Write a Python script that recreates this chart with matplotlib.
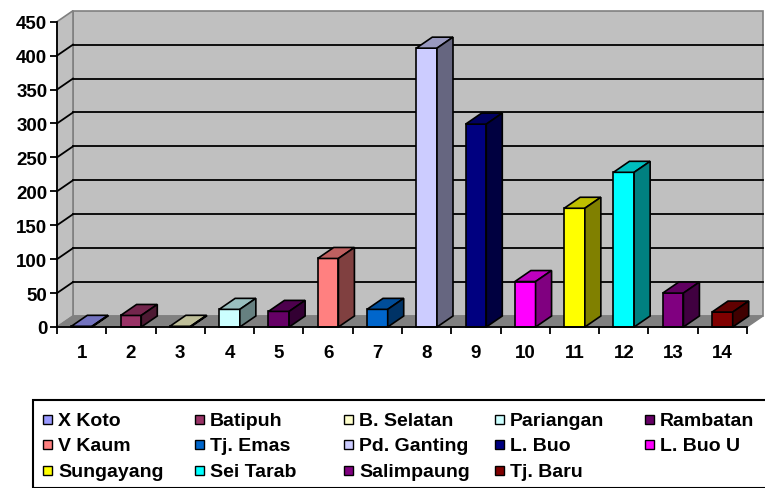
import matplotlib
matplotlib.use('Agg')
import matplotlib.pyplot as plt
from matplotlib.patches import Polygon, Rectangle
from matplotlib.colors import to_rgb

plt.rcParams['font.family'] = ['Liberation Sans', 'DejaVu Sans']
plt.rcParams['font.weight'] = 'bold'

# data
categories = ['1', '2', '3', '4', '5', '6', '7', '8', '9', '10', '11', '12', '13', '14']
names = ['X Koto', 'Batipuh', 'B. Selatan', 'Pariangan', 'Rambatan',
         'V Kaum', 'Tj. Emas', 'Pd. Ganting', 'L. Buo', 'L. Buo U',
         'Sungayang', 'Sei Tarab', 'Salimpaung', 'Tj. Baru']
values = [1, 17, 1, 26, 23, 101, 26, 411, 299, 67, 175, 228, 50, 22]
colors = ['#9999FF', '#993366', '#FFFFCC', '#CCFFFF', '#660066',
          '#FF8080', '#0066CC', '#CCCCFF', '#000080', '#FF00FF',
          '#FFFF00', '#00FFFF', '#800080', '#800000']
yticks = [0, 50, 100, 150, 200, 250, 300, 350, 400, 450]

W, H = 765, 489
fig = plt.figure(figsize=(W / 100, H / 100), dpi=100)

# front plot frame in pixels
x0, x1 = 57, 747
y_zero, y_top = 328, 22.7
ax = fig.add_axes([x0 / W, (H - y_zero) / H, (x1 - x0) / W, (y_zero - y_top) / H])
n = len(values)
ymax = 450
ax.set_xlim(0, n)
ax.set_ylim(0, ymax)

# depth offset (16 px right, 11 px up) in data units
dx = 16 / ((x1 - x0) / n)
dy = 11 / ((y_zero - y_top) / ymax)


def shade(c, f):
    r, g, b = to_rgb(c)
    return (r * f, g * f, b * f)


# walls and floor
ax.add_patch(Rectangle((dx, dy), n, ymax, facecolor='#C0C0C0', edgecolor='#808080',
                       lw=1.2, clip_on=False, zorder=0))
ax.add_patch(Polygon([(0, 0), (dx, dy), (dx, ymax + dy), (0, ymax)], closed=True,
                     facecolor='#C0C0C0', edgecolor='#808080', lw=1.2, clip_on=False, zorder=0))
ax.add_patch(Polygon([(0, 0), (n, 0), (n + dx, dy), (dx, dy)], closed=True,
                     facecolor='#808080', edgecolor='#808080', lw=1, clip_on=False, zorder=0.5))

# gridlines on back and side wall
for v in yticks[1:-1]:
    ax.plot([dx, n + dx], [v + dy, v + dy], color='black', lw=1.3, clip_on=False, zorder=1)
    ax.plot([0, dx], [v, v + dy], color='black', lw=1.3, clip_on=False, zorder=1)

# 3d bars
w = 0.42
for i, (v, c) in enumerate(zip(values, colors)):
    xc = i + 0.5
    xl, xr = xc - w / 2, xc + w / 2
    ax.bar(xc, v, width=w, color=c, edgecolor='black', lw=1.2, zorder=3, clip_on=False)
    ax.add_patch(Polygon([(xl, v), (xr, v), (xr + dx, v + dy), (xl + dx, v + dy)], closed=True,
                         facecolor=shade(c, 0.75), edgecolor='black', lw=1.2, zorder=3, clip_on=False))
    ax.add_patch(Polygon([(xr, 0), (xr + dx, dy), (xr + dx, v + dy), (xr, v)], closed=True,
                         facecolor=shade(c, 0.5), edgecolor='black', lw=1.2, zorder=3, clip_on=False))

# axes
for s in ['top', 'right']:
    ax.spines[s].set_visible(False)
ax.spines['left'].set_color('black')
ax.spines['bottom'].set_color('black')
ax.spines['left'].set_linewidth(1.3)
ax.spines['bottom'].set_linewidth(1.3)
ax.spines['left'].set_zorder(4)
ax.spines['bottom'].set_zorder(4)
ax.patch.set_visible(False)

ax.set_yticks(yticks)
ax.set_yticklabels([str(t) for t in yticks], fontsize=13.5, fontweight='bold')
ax.set_xticks(range(n + 1))
ax.set_xticklabels([])
ax.set_xticks([i + 0.5 for i in range(n)], minor=True)
ax.set_xticklabels(categories, minor=True, fontsize=13.5, fontweight='bold')
ax.tick_params(axis='y', direction='out', length=5, width=1.3, pad=2)
ax.tick_params(axis='x', which='major', direction='out', length=5, width=1.3)
ax.tick_params(axis='x', which='minor', length=0, pad=12)

# legend box
lx0, ly0 = 33, 401
fig.patches.append(Rectangle((lx0 / W, 0), (W - lx0 + 5) / W, (H - ly0) / H,
                             transform=fig.transFigure, facecolor='white',
                             edgecolor='black', lw=1.5, clip_on=False))
col_x = [43, 195, 344, 495, 645]
row_y = [420, 445, 471]
for i, (name, c) in enumerate(zip(names, colors)):
    cx = col_x[i % 5]
    ry = row_y[i // 5]
    fig.patches.append(Rectangle((cx / W, (H - ry - 4.5) / H), 9 / W, 9 / H,
                                 transform=fig.transFigure, facecolor=c,
                                 edgecolor='black', lw=1))
    fig.text((cx + 15) / W, (H - ry) / H, name, fontsize=14, fontweight='bold',
             ha='left', va='center_baseline')

fig.savefig('out.png', dpi=100)
